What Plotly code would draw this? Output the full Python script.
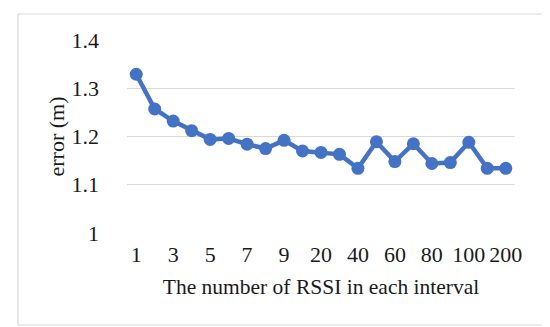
import plotly.graph_objects as go

categories = ["1", "2", "3", "4", "5", "6", "7", "8", "9", "10",
              "20", "30", "40", "50", "60", "70", "80", "90", "100", "150", "200"]
errors = [1.329, 1.257, 1.232, 1.212, 1.194, 1.196, 1.184, 1.175, 1.192, 1.170,
          1.167, 1.163, 1.134, 1.189, 1.148, 1.185, 1.144, 1.146, 1.188, 1.134, 1.134]
shown_ticks = ["1", "3", "5", "7", "9", "20", "40", "60", "80", "100", "200"]
y_ticks = [1.0, 1.1, 1.2, 1.3, 1.4]
y_labels = ["1", "1.1", "1.2", "1.3", "1.4"]

font_family = "Liberation Serif, Times New Roman, serif"
blue = "#4472C4"

fig = go.Figure(go.Scatter(
    x=categories, y=errors, mode="lines+markers",
    line=dict(color=blue, width=4.5),
    marker=dict(color=blue, size=13),
))

fig.update_layout(
    width=550, height=327,
    margin=dict(l=119, r=43, t=32, b=102),
    paper_bgcolor="white", plot_bgcolor="white",
    showlegend=False,
    font=dict(family=font_family, size=22, color="#1a1a1a"),
    xaxis=dict(
        type="category", categoryorder="array", categoryarray=categories,
        range=[-0.5, len(categories) - 0.5],
        tickmode="array", tickvals=shown_ticks, ticktext=shown_ticks,
        showgrid=False, showline=False, zeroline=False, ticks="",
        tickfont=dict(size=22),
        ticklabelstandoff=6,
        title=dict(text="The number of RSSI in each interval", font=dict(size=21.5), standoff=12),
    ),
    yaxis=dict(
        range=[1.0, 1.4], tickmode="array", tickvals=y_ticks, ticktext=y_labels,
        showgrid=True, gridcolor="#d9d9d9", gridwidth=1.3,
        zeroline=False, showline=False, ticks="",
        tickfont=dict(size=22),
        ticklabelstandoff=27,
    ),
    annotations=[dict(text="error (m)", xref="paper", yref="paper",
                      x=(48 - 119) / 388, y=0.5, textangle=-90, showarrow=False,
                      xanchor="center", yanchor="middle", font=dict(size=22))],
    shapes=[dict(type="rect", xref="paper", yref="paper",
                 x0=-0.281, x1=1.0773, y0=-0.4767, y1=1.1347,
                 line=dict(color="#d9d9d9", width=1.2), fillcolor="rgba(0,0,0,0)",
                 layer="below")],
)

fig.write_html("out.html")
